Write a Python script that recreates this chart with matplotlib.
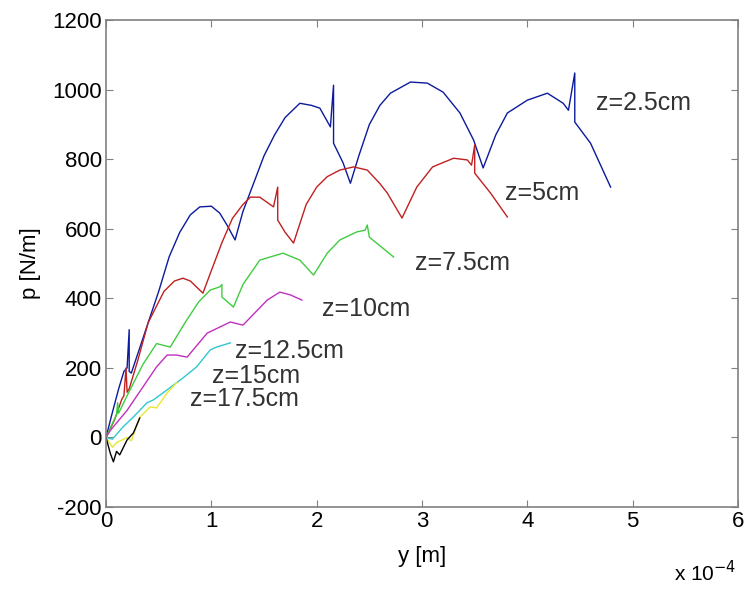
"""Pressure p versus displacement y for several depths z."""

import matplotlib

matplotlib.use("Agg")
import matplotlib.pyplot as plt

plt.rcParams["font.family"] = ["Liberation Sans", "DejaVu Sans"]
plt.rcParams["axes.unicode_minus"] = False

# displacement in units of 1e-4 m, pressure in N/m
y_25 = [0, 0.05, 0.12, 0.17, 0.2, 0.22, 0.22, 0.24, 0.4, 0.5, 0.6, 0.7, 0.8,
        0.89, 1.0, 1.08, 1.15, 1.225, 1.3, 1.4, 1.5, 1.6, 1.7, 1.84, 1.95,
        2.03, 2.08, 2.13, 2.16, 2.16, 2.25, 2.32, 2.4, 2.5, 2.6, 2.7, 2.89,
        3.05, 3.2, 3.36, 3.49, 3.58, 3.7, 3.81, 4.0, 4.19, 4.34, 4.39, 4.45,
        4.45, 4.6, 4.79]
p_25 = [0, 60, 140, 190, 200, 310, 190, 185, 330, 420, 520, 590, 640,
        663, 665, 645, 610, 568, 650, 730, 810, 870, 920, 961, 955,
        947, 920, 893, 1013, 846, 790, 731, 810, 900, 955, 990, 1022,
        1019, 993, 933, 855, 775, 870, 933, 970, 990, 961, 941, 1048,
        907, 846, 720]

y_5 = [0, 0.08, 0.15, 0.17, 0.19, 0.2, 0.22, 0.3, 0.4, 0.55, 0.65, 0.73, 0.8,
       0.92, 1.0, 1.1, 1.2, 1.3, 1.37, 1.46, 1.59, 1.63, 1.63, 1.7, 1.78,
       1.9, 2.0, 2.1, 2.22, 2.35, 2.48, 2.6, 2.67, 2.81, 2.95, 3.1, 3.3,
       3.43, 3.47, 3.5, 3.5, 3.65, 3.81]
p_5 = [0, 50, 110, 120, 200, 130, 140, 220, 330, 420, 450, 458, 450,
       415, 480, 560, 630, 670, 691, 691, 663, 720, 625, 590, 559,
       670, 720, 750, 769, 778, 769, 730, 703, 631, 720, 778, 803,
       798, 783, 841, 760, 703, 634]

y_75 = [0, 0.06, 0.1, 0.11, 0.12, 0.2, 0.35, 0.48, 0.61, 0.75, 0.88, 0.99,
        1.08, 1.1, 1.1, 1.21, 1.3, 1.46, 1.68, 1.84, 1.97, 2.1, 2.22, 2.38,
        2.46, 2.48, 2.5, 2.73]
p_75 = [0, 40, 65, 100, 70, 120, 210, 270, 260, 330, 390, 424,
        433, 440, 404, 375, 440, 510, 530, 510, 467, 530, 568, 591,
        596, 611, 576, 519]

y_10 = [0, 0.04, 0.2, 0.35, 0.48, 0.58, 0.67, 0.77, 0.96, 1.18, 1.3, 1.53,
        1.65, 1.75, 1.86]
p_10 = [0, 20, 78, 145, 203, 237, 237, 231, 300, 332, 323, 395,
        418, 410, 395]

y_125 = [0, 0.06, 0.16, 0.26, 0.39, 0.45, 0.58, 0.73, 0.86, 0.99, 1.05, 1.18]
p_125 = [0, -5, 30, 59, 100, 108, 137, 171, 203, 252, 260, 272]

y_15 = [0, 0.06, 0.1, 0.2, 0.24, 0.32, 0.42, 0.48, 0.58, 0.67]
p_15 = [0, -28, -15, 0, -10, 58, 88, 85, 128, 157]

y_175 = [0, 0.04, 0.07, 0.1, 0.13, 0.2, 0.26, 0.32]
p_175 = [0, -45, -70, -40, -50, -7, 13, 56]

labels = ["z=2.5cm", "z=5cm", "z=7.5cm", "z=10cm", "z=12.5cm", "z=15cm", "z=17.5cm"]
label_x = [4.65, 3.79, 2.93, 2.05, 1.225, 1.01, 0.8]
label_p = [963, 704, 503, 370, 250, 178, 112]

series = [(y_25, p_25, "#0c1a9c"), (y_5, p_5, "#c02020"), (y_75, p_75, "#40cc40"),
          (y_10, p_10, "#c030c0"), (y_125, p_125, "#30c8d0"),
          (y_15, p_15, "#e8e830"), (y_175, p_175, "#000000")]

fig = plt.figure(figsize=(7.44, 5.93), dpi=100)
ax = fig.add_axes([0.1425, 0.145, 0.8495, 0.821])

for xs, ps, col in series:
    ax.plot(xs, ps, color=col, lw=1.0)

for lab, lx, lp in zip(labels, label_x, label_p):
    ax.text(lx, lp, lab, fontsize=18, color="#333333", va="center", ha="left")

ax.set_xlim(0, 6)
ax.set_ylim(-200, 1200)
ax.set_xticks(range(0, 7))
ax.set_yticks(range(-200, 1201, 200))
ax.tick_params(direction="in", top=True, right=True, labelsize=16,
               color="#808080", length=5, pad=3)
for s in ax.spines.values():
    s.set_color("#808080")
    s.set_linewidth(1.2)

ax.set_xlabel("y [m]", fontsize=16, labelpad=10)
ax.set_ylabel("p [N/m]", fontsize=16, labelpad=8)
fig.text(0.99, 0.02, r"x 10$^{-4}$", fontsize=15, ha="right")

fig.savefig("out.png", dpi=100)
plt.close(fig)
